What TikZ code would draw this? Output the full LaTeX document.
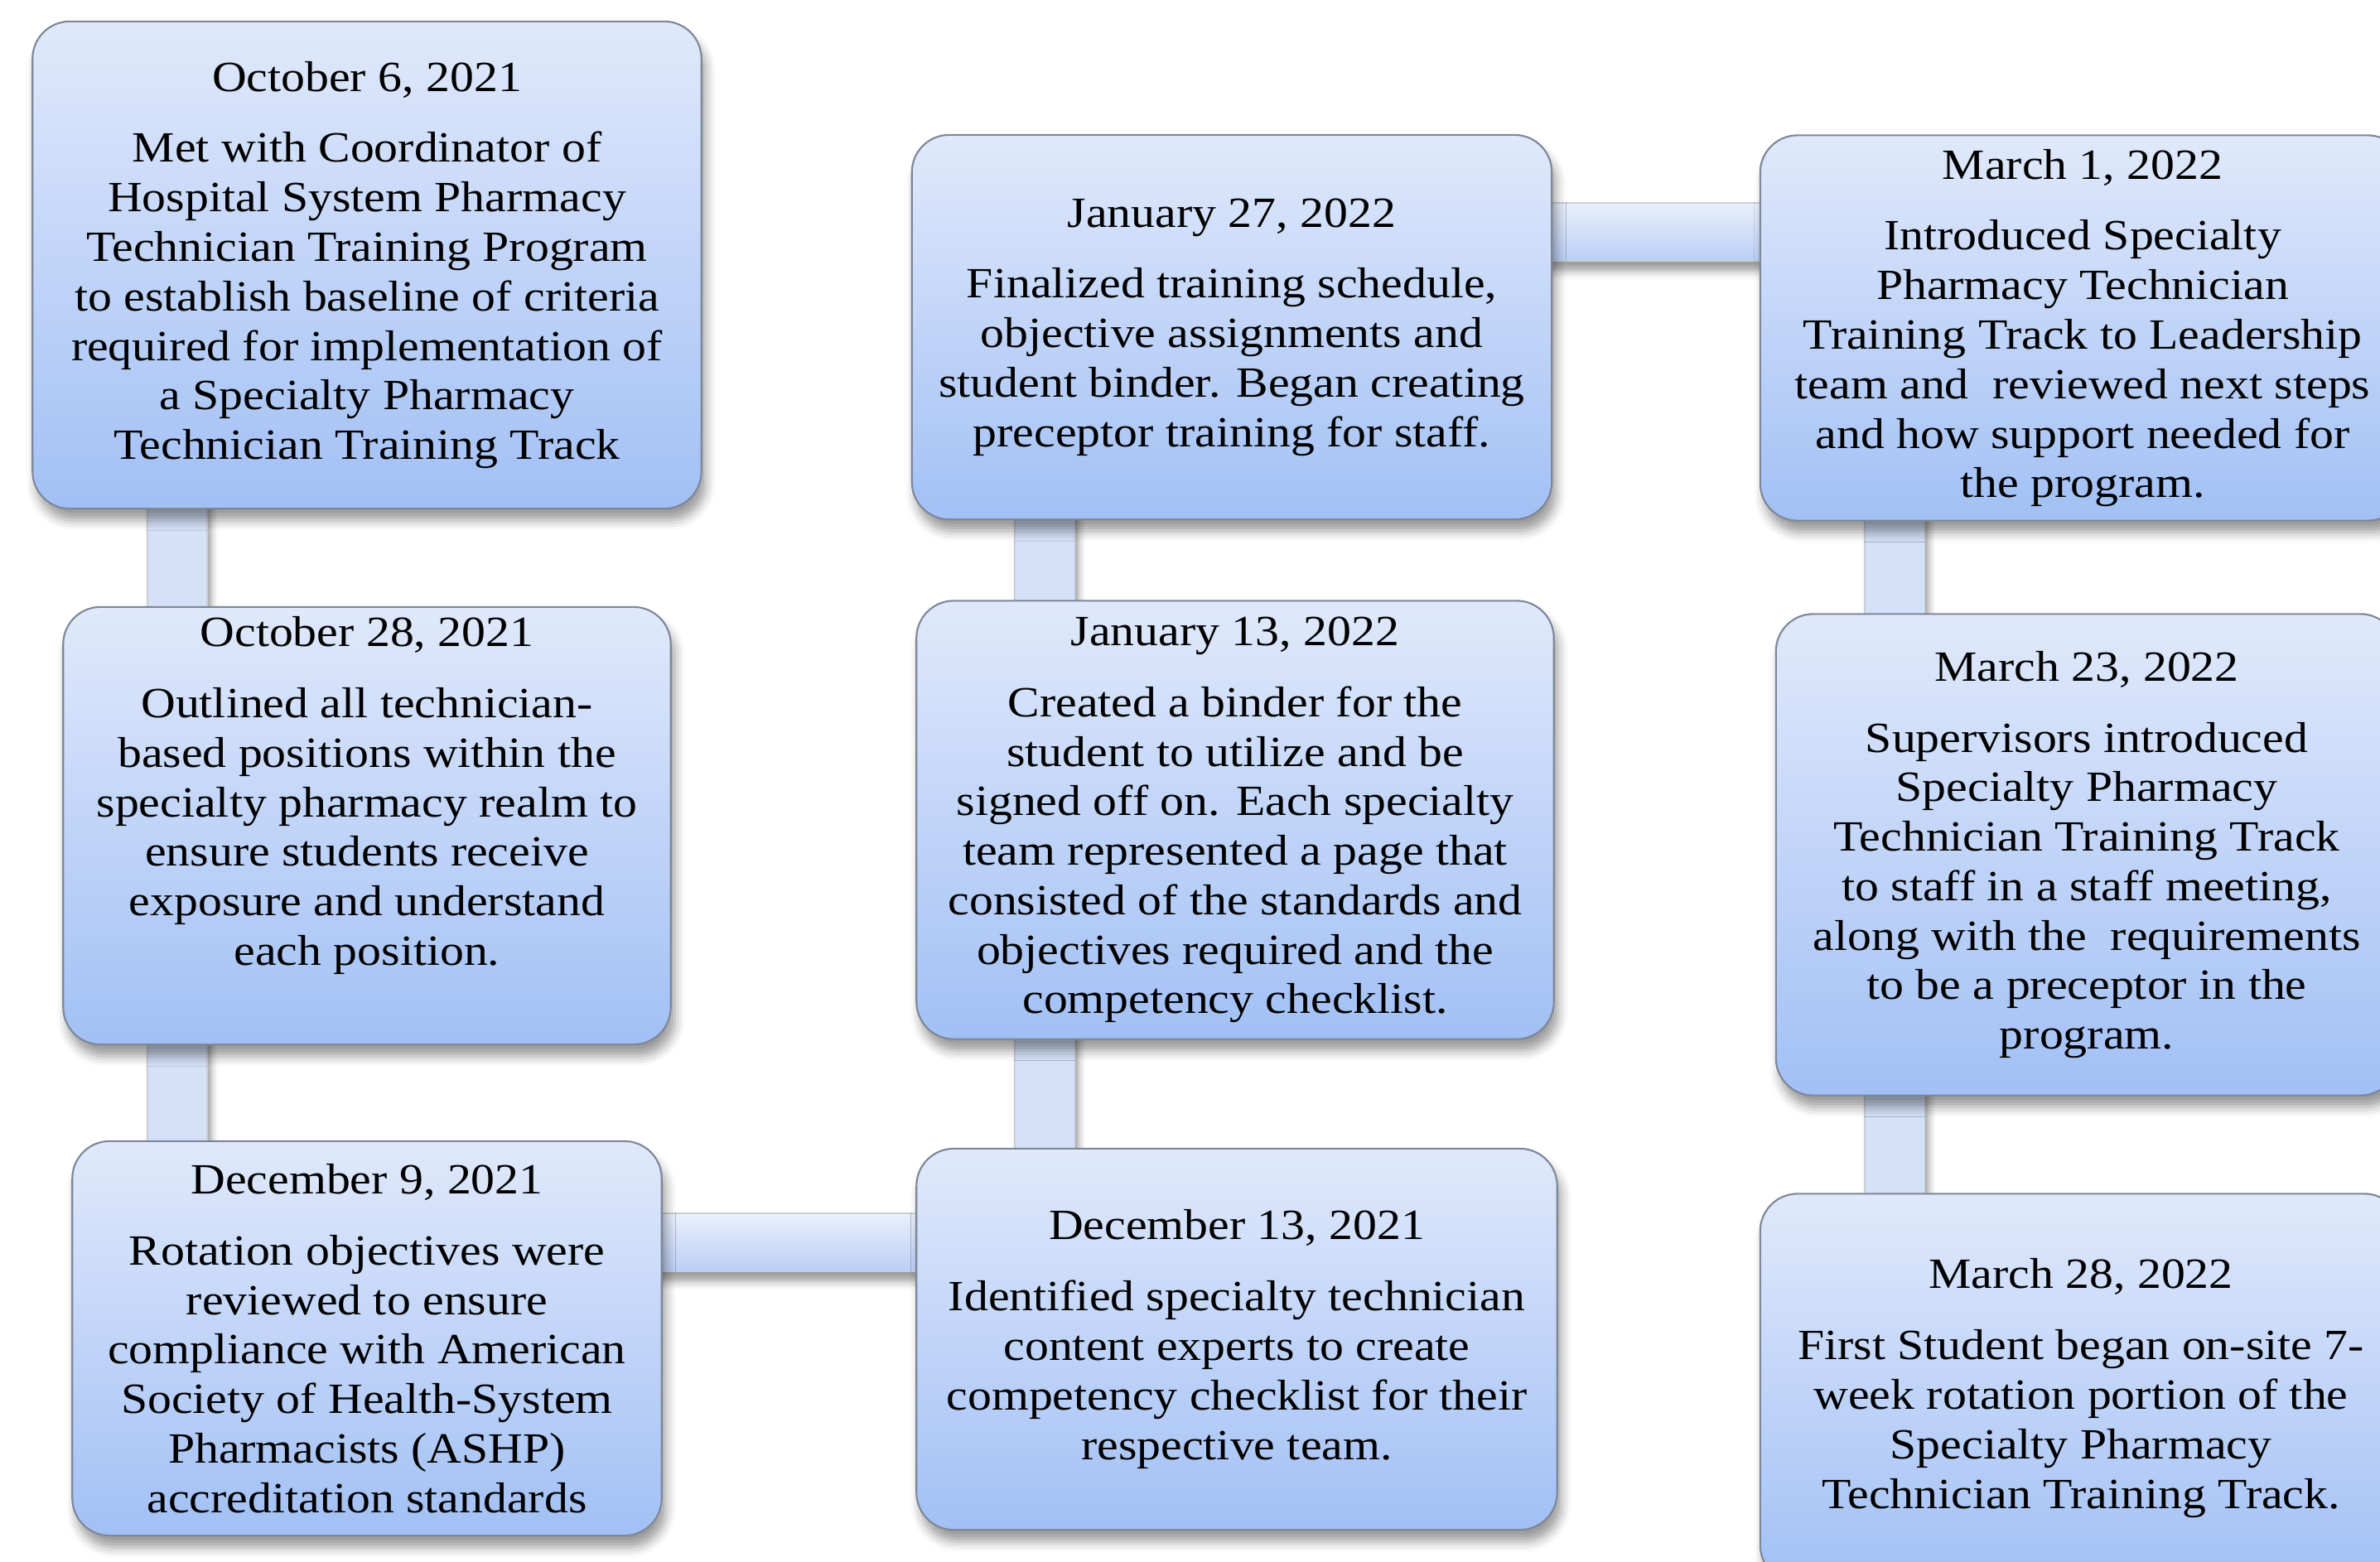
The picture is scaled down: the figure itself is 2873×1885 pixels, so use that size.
\documentclass[tikz,border=0pt]{standalone}
\usepackage{fontspec}
\setmainfont{Liberation Serif}[FakeStretch=1.11]
\usepackage{xcolor}
\usetikzlibrary{shadows.blur,backgrounds}
\definecolor{boxtop}{RGB}{224,233,251}
\definecolor{boxbot}{RGB}{162,192,245}
\definecolor{boxline}{RGB}{125,135,152}
\definecolor{barfill}{RGB}{212,225,249}
\definecolor{bartop}{RGB}{234,240,252}
\definecolor{barbot}{RGB}{186,206,245}

\begin{document}
\begin{tikzpicture}[x=0.01cm, y=-0.01cm,
% common options for the date boxes:
box/.style = {draw=boxline, line width=0.6pt, rounded corners=4.5mm,
            top color=boxtop, bottom color=boxbot, align=center, inner sep=0,
            font=\fontsize{14.8}{17}\selectfont,
            blur shadow={shadow xshift=0.5mm, shadow yshift=-1.4mm, shadow blur radius=1.2mm}},
% common options for the bars between boxes:
vbar/.style = {fill=barfill, draw=boxline!40, line width=0.3pt,
            blur shadow={shadow xshift=0.5mm, shadow yshift=-0.5mm, shadow blur radius=0.8mm}},
hbar/.style = {top color=bartop, bottom color=barbot, draw=boxline!40, line width=0.3pt,
            blur shadow={shadow xshift=0.3mm, shadow yshift=-1.2mm, shadow blur radius=1mm}}]
\useasboundingbox (0,0) rectangle (2873,1885);
\clip (0,0) rectangle (2873,1885);
\coordinate (colL) at (214,0);
\coordinate (colM) at (1261,0);
\coordinate (colR) at (2287,0);
\coordinate (rowT) at (0,280);
\coordinate (rowB) at (0,1500);
% left column
\node[box, minimum width=80.7mm, minimum height=58.8mm] (oct6) at (443,320) {October 6, 2021\\[2.6mm]
  Met with Coordinator of\\ Hospital System Pharmacy\\ Technician Training Program\\
  to establish baseline of criteria\\ required for implementation of\\
  a Specialty Pharmacy\\ Technician Training Track};
\node[box, minimum width=73.3mm, minimum height=52.8mm] (oct28) at (443,997) {October 28, 2021\\[2.6mm]
  Outlined all technician-\\ based positions within the\\ specialty pharmacy realm to\\
  ensure students receive\\ exposure and understand\\ each position.\\[2.4mm]~};
\node[box, minimum width=71.1mm, minimum height=47.6mm] (dec9) at (443,1616) {December 9, 2021\\[2.6mm]
  Rotation objectives were\\ reviewed to ensure\\ compliance with American\\
  Society of Health-System\\ Pharmacists (ASHP)\\ accreditation standards};
% middle column
\node[box, minimum width=77.3mm, minimum height=46.0mm] (dec13) at (1493,1617) {December 13, 2021\\[2.6mm]
  Identified specialty technician\\ content experts to create\\
  competency checklist for their\\ respective team.};
\node[box, minimum width=76.9mm, minimum height=52.9mm] (jan13) at (1491,990) {January 13, 2022\\[2.6mm]
  Created a binder for the\\ student to utilize and be\\ signed off on. Each specialty\\
  team represented a page that\\ consisted of the standards and\\
  objectives required and the\\ competency checklist.};
\node[box, minimum width=77.2mm, minimum height=46.4mm] (jan27) at (1487,395) {January 27, 2022\\[2.6mm]
  Finalized training schedule,\\ objective assignments and\\
  student binder. Began creating\\ preceptor training for staff.};
% right column
\node[box, minimum width=77.8mm, minimum height=46.5mm] (mar1) at (2514,396) {March 1, 2022\\[2.6mm]
  Introduced Specialty\\ Pharmacy Technician\\ Training Track to Leadership\\
  team and\ \ reviewed next steps\\ and how support needed for\\ the program.};
\node[box, minimum width=75.0mm, minimum height=58.1mm] (mar23) at (2519,1032) {March 23, 2022\\[2.6mm]
  Supervisors introduced\\ Specialty Pharmacy\\ Technician Training Track\\
  to staff in a staff meeting,\\ along with the\ \ requirements\\
  to be a preceptor in the\\ program.};
\node[box, minimum width=77.4mm, minimum height=46.9mm] (mar28) at (2512,1676) {March 28, 2022\\[2.6mm]
  First Student began on-site 7-\\ week rotation portion of the\\
  Specialty Pharmacy\\ Technician Training Track.};
% bars
\begin{pgfonlayer}{background}
\path[vbar] ([xshift=-3.6mm,yshift=3mm]oct6.south -| colL) rectangle ([xshift=3.6mm,yshift=-3mm]oct28.north -| colL);
\path[vbar] ([xshift=-3.6mm,yshift=3mm]oct28.south -| colL) rectangle ([xshift=3.6mm,yshift=-3mm]dec9.north -| colL);
\path[hbar] ([xshift=-3mm,yshift=3.5mm]dec9.east |- rowB) rectangle ([xshift=3mm,yshift=-3.5mm]dec13.west |- rowB);
\path[vbar] ([xshift=-3.6mm,yshift=3mm]jan13.south -| colM) rectangle ([xshift=3.6mm,yshift=-3mm]dec13.north -| colM);
\path[vbar] ([xshift=-3.6mm,yshift=3mm]jan27.south -| colM) rectangle ([xshift=3.6mm,yshift=-3mm]jan13.north -| colM);
\path[hbar] ([xshift=-3mm,yshift=3.5mm]jan27.east |- rowT) rectangle ([xshift=3mm,yshift=-3.5mm]mar1.west |- rowT);
\path[vbar] ([xshift=-3.6mm,yshift=3mm]mar1.south -| colR) rectangle ([xshift=3.6mm,yshift=-3mm]mar23.north -| colR);
\path[vbar] ([xshift=-3.6mm,yshift=3mm]mar23.south -| colR) rectangle ([xshift=3.6mm,yshift=-3mm]mar28.north -| colR);
\end{pgfonlayer}
\end{tikzpicture}
\end{document}
